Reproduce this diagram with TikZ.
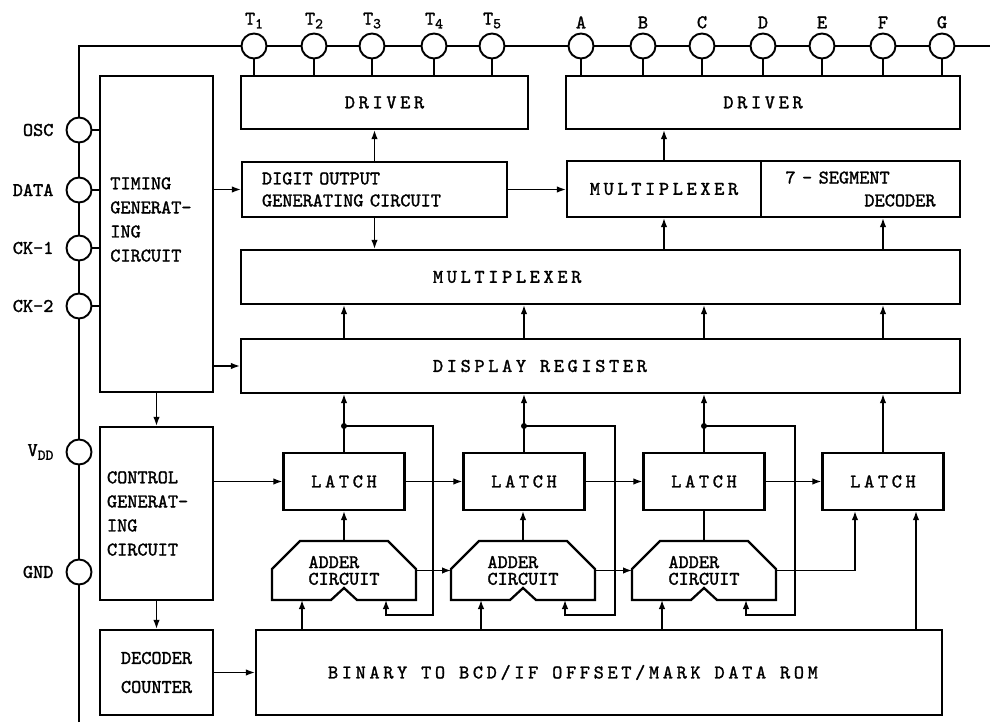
\documentclass[tikz,border=0pt]{standalone}
\usepackage{fontspec}
\newfontfamily\blkfont[FakeBold=1.5]{lmmono10-regular.otf}
\newfontfamily\wideblkfont[FakeBold=1.5, LetterSpace=19]{lmmono10-regular.otf}
\usetikzlibrary{arrows.meta, positioning}
\newcommand{\pinsub}[1]{\raisebox{-0.45ex}{\fontsize{8.5}{8.5}\selectfont #1}}
\newcommand{\widesetup}{\wideblkfont\fontsize{11}{13.7}\selectfont}
\newcommand{\wsp}{\hspace{0.72em}}
\newcommand{\addershape}[1]{%
  \draw[blkline] ([xshift=5.6mm]#1.north west) -- ([xshift=-5.6mm]#1.north east)
    -- ([yshift=-5.6mm]#1.north east) -- (#1.south east)
    -- ([xshift=2.6mm]#1.south) -- ([yshift=2.4mm]#1.south) -- ([xshift=-2.6mm]#1.south)
    -- (#1.south west) -- ([yshift=-5.6mm]#1.north west) -- cycle;}
\tikzset{
  blkline/.style={draw=black, line width=1.3pt, line join=miter},
  blk/.style={draw=black, line width=1.3pt, inner sep=2pt, align=center, font=\blkfont\fontsize{11}{13.7}\selectfont},
  wideblk/.style={blk, font=\widesetup},
  pin/.style={circle, draw=black, line width=1.1pt, fill=white, minimum size=5mm, inner sep=0pt},
  lbl/.style={font=\blkfont\fontsize{11}{13}\selectfont, inner sep=1pt},
  leftlbl/.style={lbl, xshift=-2mm},
  toplbl/.style={lbl, yshift=0.4mm},
  wire/.style={line width=0.8pt, draw=black},
  arrow/.style={-{Latex[length=1.8mm, width=1.3mm]}, line width=0.8pt, draw=black},
  bus/.style={line width=1.2pt, draw=black}
}
\begin{document}
\begin{tikzpicture}[x=0.2mm, y=-0.2mm,
  latch/.style={wideblk, minimum width=24.2mm, minimum height=11.4mm},
  adder/.style={minimum width=28.8mm, minimum height=11.8mm, inner sep=0pt, outer sep=0pt, align=left, font=\blkfont\fontsize{11}{9.5}\selectfont}
]
\useasboundingbox (0,0) rectangle (990,726);

% outer bus
\coordinate (busB) at (79,722);
\coordinate (busR) at (990,46);
\draw[bus] (busB) |- (busR);

% left column
\node[blk, minimum width=22.6mm, minimum height=63.2mm] (timing) at (156.5,234) {};
\node[lbl, align=left, anchor=west, inner sep=0pt, font=\blkfont\fontsize{11}{13.7}\selectfont] (timingtxt) at (110,219.5) {TIMING\\GENERAT-\\ING\\CIRCUIT};
\node[blk, minimum width=22.6mm, minimum height=34.6mm, text width=19.8mm, align=left] (control) at (156.5,513.5) {CONTROL\\GENERAT-\\ING\\CIRCUIT};
\node[blk, minimum width=22.6mm, minimum height=17mm, font=\blkfont\fontsize{11}{16.5}\selectfont] (decoder) at (156.5,672.5) {DECODER\\COUNTER};

% upper blocks
\node[wideblk, minimum width=57.4mm, minimum height=10.6mm] (drvL) at (384.5,102.5) {DRIVER};
\node[wideblk, minimum width=78.8mm, minimum height=10.6mm] (drvR) at (763,102.5) {DRIVER};
\node[blk, minimum width=53mm, minimum height=11mm, text width=45mm, align=left, font=\blkfont\fontsize{11}{12.5}\selectfont] (digit) at (374.5,189.5) {DIGIT OUTPUT\\GENERATING CIRCUIT};
\node[wideblk, minimum width=38.8mm, minimum height=11.2mm] (muxS) at (664,189) {MULTIPLEXER};
\node[blk, minimum width=39.8mm, minimum height=11.2mm, text width=30mm, align=left, font=\blkfont\fontsize{11}{13}\selectfont] (seg) at (860.5,189) {7 - SEGMENT\\\hfill DECODER};
\node[wideblk, minimum width=143.8mm, minimum height=10.8mm, text width=67mm, align=left] (muxbig) at (600.5,277) {MULTIPLEXER};
\node[wideblk, minimum width=143.8mm, minimum height=10.8mm, text width=67mm, align=left] (dreg) at (600.5,366) {DISPLAY\wsp REGISTER};

% latches and adders
\node[latch] (l1) at (344,481.5) {LATCH};
\node[latch] (l2) at (524,481.5) {LATCH};
\node[latch] (l3) at (704,481.5) {LATCH};
\node[latch] (l4) at (883,481.5) {LATCH};
\node[adder] (a1) at (344,570.5) {ADDER\\CIRCUIT};
\node[adder] (a2) at (523,570.5) {ADDER\\CIRCUIT};
\node[adder] (a3) at (704,570.5) {ADDER\\CIRCUIT};
\addershape{a1}
\addershape{a2}
\addershape{a3}
\node[wideblk, minimum width=137.2mm, minimum height=17mm, text width=108.4mm, align=left] (rom) at (599,672.5) {BINARY\wsp TO\wsp BCD/IF\wsp OFFSET/MARK\wsp DATA\wsp ROM};

% pins
\node[pin, label={[toplbl]above:T\pinsub{1}}] (pT1) at (254,46) {};
\node[pin, label={[toplbl]above:T\pinsub{2}}] (pT2) at (314,46) {};
\node[pin, label={[toplbl]above:T\pinsub{3}}] (pT3) at (372,46) {};
\node[pin, label={[toplbl]above:T\pinsub{4}}] (pT4) at (434,46) {};
\node[pin, label={[toplbl]above:T\pinsub{5}}] (pT5) at (492,46) {};
\node[pin, label={[toplbl]above:A}] (pA) at (581,46) {};
\node[pin, label={[toplbl]above:B}] (pB) at (643,46) {};
\node[pin, label={[toplbl]above:C}] (pC) at (702,46) {};
\node[pin, label={[toplbl]above:D}] (pD) at (763,46) {};
\node[pin, label={[toplbl]above:E}] (pE) at (822,46) {};
\node[pin, label={[toplbl]above:F}] (pF) at (883,46) {};
\node[pin, label={[toplbl]above:G}] (pG) at (942,46) {};
\node[pin, label={[leftlbl]left:OSC}] (posc) at (79,130) {};
\node[pin, label={[leftlbl]left:DATA}] (pdata) at (79,190) {};
\node[pin, label={[leftlbl]left:CK-1}] (pck1) at (79,248) {};
\node[pin, label={[leftlbl]left:CK-2}] (pck2) at (79,306) {};
\node[pin, label={[leftlbl]left:V\pinsub{DD}}] (pvdd) at (79,452) {};
\node[pin, label={[leftlbl]left:GND}] (pgnd) at (79,572) {};

% pin stubs
\draw[wire] (pT1) -- (pT1 |- drvL.north);
\draw[wire] (pT2) -- (pT2 |- drvL.north);
\draw[wire] (pT3) -- (pT3 |- drvL.north);
\draw[wire] (pT4) -- (pT4 |- drvL.north);
\draw[wire] (pT5) -- (pT5 |- drvL.north);
\draw[wire] (pA) -- (pA |- drvR.north);
\draw[wire] (pB) -- (pB |- drvR.north);
\draw[wire] (pC) -- (pC |- drvR.north);
\draw[wire] (pD) -- (pD |- drvR.north);
\draw[wire] (pE) -- (pE |- drvR.north);
\draw[wire] (pF) -- (pF |- drvR.north);
\draw[wire] (pG) -- (pG |- drvR.north);
\draw[wire] (posc) -- (posc -| timing.west);
\draw[wire] (pdata) -- (pdata -| timing.west);
\draw[wire] (pck1) -- (pck1 -| timing.west);
\draw[wire] (pck2) -- (pck2 -| timing.west);

% upper signal flow
\draw[arrow] (timing.east |- digit.west) -- (digit.west);
\draw[arrow] (timing.east |- dreg.west) -- (dreg.west);
\draw[arrow] (digit.north) -- (digit.north |- drvL.south);
\draw[arrow] (digit.south) -- (digit.south |- muxbig.north);
\draw[arrow] (digit.east) -- (digit.east -| muxS.west);
\draw[arrow] (muxS.north) -- (muxS.north |- drvR.south);
\draw[arrow] (muxS.south |- muxbig.north) -- (muxS.south);
\draw[arrow] (l4.north |- muxbig.north) -- (l4.north |- seg.south);
\draw[arrow] (l1.north |- dreg.north) -- (l1.north |- muxbig.south);
\draw[arrow] (l2.north |- dreg.north) -- (l2.north |- muxbig.south);
\draw[arrow] (l3.north |- dreg.north) -- (l3.north |- muxbig.south);
\draw[arrow] (l4.north |- dreg.north) -- (l4.north |- muxbig.south);

% left column flow
\draw[arrow] (timing.south) -- (control.north);
\draw[arrow] (control.south) -- (decoder.north);
\draw[arrow] (decoder.east) -- (decoder.east -| rom.west);

% latch chain
\draw[arrow] (control.east |- l1.west) -- (l1.west);
\draw[arrow] (l1.east) -- (l2.west);
\draw[arrow] (l2.east) -- (l3.west);
\draw[arrow] (l3.east) -- (l4.west);
\draw[arrow] (l1.north) -- (l1.north |- dreg.south);
\draw[arrow] (l2.north) -- (l2.north |- dreg.south);
\draw[arrow] (l3.north) -- (l3.north |- dreg.south);
\draw[arrow] (l4.north) -- (l4.north |- dreg.south);

% feedback from latches to adders
\coordinate (j1) at (l1.north |- 0,426);
\coordinate (j2) at (l2.north |- 0,426);
\coordinate (j3) at (l3.north |- 0,426);
\coordinate (f1) at (433,615);
\coordinate (f2) at (615,615);
\coordinate (f3) at (795,615);
\coordinate (a1fb) at ([xshift=8.4mm]a1.south);
\coordinate (a2fb) at ([xshift=8.4mm]a2.south);
\coordinate (a3fb) at ([xshift=8.4mm]a3.south);
\fill (j1) circle[radius=0.6mm];
\fill (j2) circle[radius=0.6mm];
\fill (j3) circle[radius=0.6mm];
\draw[arrow] (j1) -| (f1) -| (a1fb);
\draw[arrow] (j2) -| (f2) -| (a2fb);
\draw[arrow] (j3) -| (f3) -| (a3fb);

% adders
\draw[arrow] (a1.north) -- (a1.north |- l1.south);
\draw[arrow] (a2.north) -- (a2.north |- l2.south);
\draw[wire] (a3.north) -- (a3.north |- l3.south);
\draw[arrow] (a1.east) -- (a2.west);
\draw[arrow] (a2.east) -- (a3.west);
\coordinate (l4a) at ([xshift=-5.6mm]l4.south);
\coordinate (l4b) at ([xshift=6.6mm]l4.south);
\draw[arrow] (a3.east) -| (l4a);

% rom outputs
\coordinate (a1in) at ([xshift=-8.4mm]a1.south);
\coordinate (a2in) at ([xshift=-8.4mm]a2.south);
\coordinate (a3in) at ([xshift=-8.4mm]a3.south);
\draw[arrow] (a1in |- rom.north) -- (a1in);
\draw[arrow] (a2in |- rom.north) -- (a2in);
\draw[arrow] (a3in |- rom.north) -- (a3in);
\draw[arrow] (l4b |- rom.north) -- (l4b);
\end{tikzpicture}
\end{document}
